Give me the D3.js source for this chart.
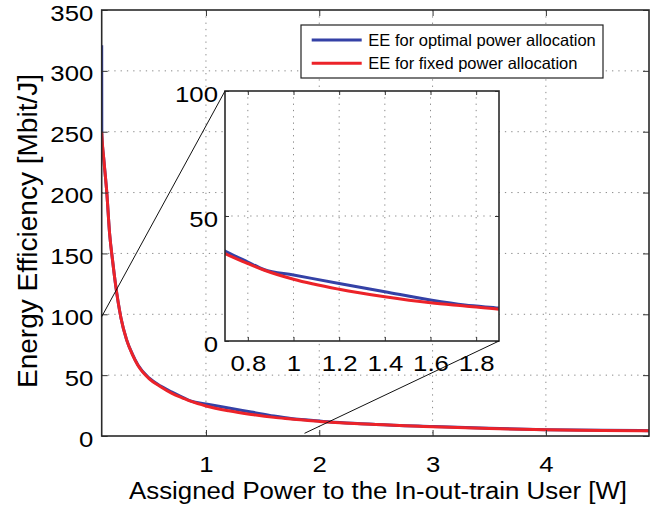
<!DOCTYPE html>
<html>
<head>
<meta charset="utf-8">
<script src="https://cdn.jsdelivr.net/npm/d3@7"></script>
<style>
  body { margin: 0; background: #fff; }
  svg { font-family: "Liberation Sans", Arial, sans-serif; }
  .grid line { stroke: #8a8a8a; stroke-width: 1; stroke-dasharray: 1.3,5; }
  .axis path { display: none; }
  .axis line { stroke: #333; stroke-width: 1; }
  .axis text { fill: #000; }
</style>
</head>
<body>
<svg width="664" height="508"></svg>
<script>
// sampled transmit power of the in-out-train user [W]
var power   = [0.08, 0.081, 0.1, 0.125, 0.15, 0.175, 0.2, 0.25, 0.3, 0.35, 0.4, 0.5, 0.6, 0.7, 0.8, 0.87, 1.0, 1.2, 1.4, 1.6, 1.75, 1.9, 2.0, 2.5, 3.0, 3.5, 4.0, 4.5, 4.91];
// EE [Mbit/J]
var eeOptimal = [321, 248, 226, 200, 166, 145, 126, 97, 79, 67.5, 58.3, 47.5, 41, 36, 31.6, 28.6, 26.4, 23.0, 19.7, 16.4, 14.4, 13.2, 12.3, 9.5, 7.8, 6.3, 5.2, 4.7, 4.4];
var eeFixed   = [250, 248, 226, 200, 166, 145, 126, 97, 79, 67, 58, 47, 40.5, 35, 31, 28.4, 24.7, 20.7, 17.7, 15.3, 14.0, 12.7, 12.0, 9.4, 7.7, 6.2, 5.1, 4.6, 4.3];

var seriesNames  = ["EE for optimal power allocation", "EE for fixed power allocation"];
var seriesColors = ["#3441a6", "#ec2329"];

var mainXTicks  = [1, 2, 3, 4];
var mainYTicks  = [0, 50, 100, 150, 200, 250, 300, 350];
var insetXTicks = [0.8, 1, 1.2, 1.4, 1.6, 1.8];
var insetYTicks = [0, 50, 100];

// zoom connector ends: [main point, inset point]
var zoomLinks = [
  [[0.08, 98], [0.7, 100]],
  [[1.87, 2.2], [1.9, 0]]
];

var series = [eeOptimal, eeFixed].map(function(vals, i){
  return {
    name: seriesNames[i],
    color: seriesColors[i],
    values: vals.map(function(v, j){ return {x: power[j], y: v}; })
  };
});

var svg = d3.select("svg");
var tickFont = 22, stretch = 1.17;

var x = d3.scaleLinear().domain([0.08, 4.91]).range([101.7, 649]);
var y = d3.scaleLinear().domain([0, 350]).range([436, 10]);

var ix = d3.scaleLinear().domain([0.7, 1.9]).range([225, 499]);
var iy = d3.scaleLinear().domain([0, 100]).range([341, 91]);

function drawPanel(g, sx, sy, xt, yt, id, opt){
  var x0 = sx.range()[0], x1 = sx.range()[1];
  var y0 = sy.range()[1], y1 = sy.range()[0];

  if(opt.bg){
    g.append("rect").attr("x", x0).attr("y", y0)
      .attr("width", x1 - x0).attr("height", y1 - y0).attr("fill", "#fff");
  }

  g.append("clipPath").attr("id", id)
    .append("rect").attr("x", x0).attr("y", y0)
      .attr("width", x1 - x0).attr("height", y1 - y0);

  var grid = g.append("g").classed("grid", true);
  grid.selectAll(".vx").data(xt).enter().append("line")
    .attr("x1", d=>sx(d)).attr("x2", d=>sx(d)).attr("y1", y0).attr("y2", y1);
  grid.selectAll(".hy").data(yt.filter(d=>sy(d) > y0 + 1 && sy(d) < y1 - 1)).enter().append("line")
    .attr("y1", d=>sy(d)).attr("y2", d=>sy(d)).attr("x1", x0).attr("x2", x1);

  var line = d3.line().x(d=>sx(d.x)).y(d=>sy(d.y)).curve(d3.curveMonotoneX);
  g.append("g").attr("clip-path", "url(#" + id + ")")
    .selectAll(".series").data(series).enter().append("path")
      .attr("fill", "none")
      .attr("stroke", d=>d.color)
      .attr("stroke-width", 3)
      .attr("stroke-linejoin", "round")
      .attr("d", d=>line(d.values));

  var ts = opt.tick;
  var bottom = g.append("g").classed("axis", true).attr("transform", "translate(0," + y1 + ")")
    .call(d3.axisBottom(sx).tickValues(xt).tickSize(-ts).tickPadding(opt.xpad).tickFormat(d3.format("")));
  g.append("g").classed("axis", true).attr("transform", "translate(0," + y0 + ")")
    .call(d3.axisTop(sx).tickValues(xt).tickSize(-ts).tickFormat(""));
  var left = g.append("g").classed("axis", true).attr("transform", "translate(" + x0 + ",0)")
    .call(d3.axisLeft(sy).tickValues(yt).tickSize(-ts).tickPadding(opt.ypad).tickFormat(d3.format("")));
  g.append("g").classed("axis", true).attr("transform", "translate(" + x1 + ",0)")
    .call(d3.axisRight(sy).tickValues(yt).tickSize(-ts).tickFormat(""));

  bottom.selectAll("text")
    .style("font-size", tickFont + "px")
    .attr("y", opt.xpad)
    .attr("dy", "0.71em")
    .attr("transform", "scale(" + stretch + ",1)");
  left.selectAll("text")
    .style("font-size", tickFont + "px")
    .attr("x", -opt.ypad / stretch)
    .attr("dy", "0.46em")
    .attr("transform", "scale(" + stretch + ",1)");
  g.selectAll(".axis").attr("font-size", null).attr("font-family", null);

  g.append("rect").attr("x", x0).attr("y", y0)
    .attr("width", x1 - x0).attr("height", y1 - y0)
    .attr("fill", "none").attr("stroke", "#2a2a2a").attr("stroke-width", 1.6);
}

drawPanel(svg.append("g"), x, y, mainXTicks, mainYTicks, "clipMain", {tick: 6, xpad: 20.5, ypad: 8.4});
drawPanel(svg.append("g"), ix, iy, insetXTicks, insetYTicks, "clipInset", {tick: 4, xpad: 14, ypad: 7, bg: true});

// connector lines between zoomed region and inset
svg.selectAll(".link").data(zoomLinks).enter().append("line")
  .attr("x1", d=>x(d[0][0])).attr("y1", d=>y(d[0][1]))
  .attr("x2", d=>ix(d[1][0])).attr("y2", d=>iy(d[1][1]))
  .attr("stroke", "#111").attr("stroke-width", 1);

// axis labels
svg.append("text")
  .attr("x", 378).attr("y", 499.3)
  .attr("text-anchor", "middle")
  .attr("font-size", 23.5)
  .attr("textLength", 498).attr("lengthAdjust", "spacingAndGlyphs")
  .text("Assigned Power to the In-out-train User [W]");

svg.append("text")
  .attr("transform", "translate(36.7,231) rotate(-90)")
  .attr("text-anchor", "middle")
  .attr("font-size", 27)
  .attr("textLength", 314).attr("lengthAdjust", "spacingAndGlyphs")
  .text("Energy Efficiency [Mbit/J]");

// legend
var legend = svg.append("g");
legend.append("rect")
  .attr("x", 301).attr("y", 25).attr("width", 302).attr("height", 53)
  .attr("fill", "#fff").attr("stroke", "#222").attr("stroke-width", 1.2);
var items = legend.selectAll(".item").data(series).enter().append("g")
  .attr("transform", (d, i)=>"translate(0," + (40 + i * 23.3) + ")");
items.append("line")
  .attr("x1", 311.7).attr("x2", 361.7)
  .attr("stroke", d=>d.color).attr("stroke-width", 3);
items.append("text")
  .attr("x", 368.3).attr("dy", "0.36em")
  .attr("font-size", 16.5)
  .text(d=>d.name);
</script>
</body>
</html>
